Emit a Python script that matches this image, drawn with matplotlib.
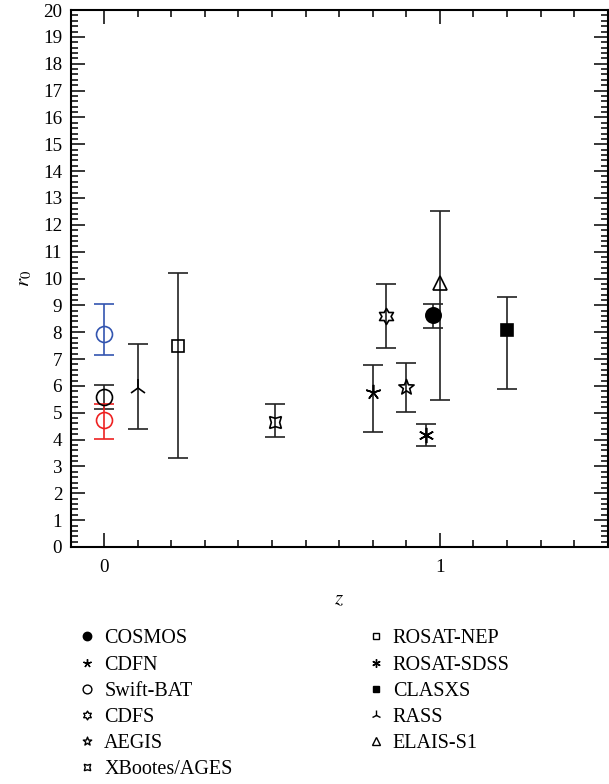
import matplotlib
matplotlib.use("Agg")
import matplotlib.pyplot as plt
from matplotlib.lines import Line2D
from matplotlib.path import Path
from matplotlib.ticker import MultipleLocator, FixedLocator
import numpy as np

plt.rcParams['font.family'] = ['Liberation Serif', 'DejaVu Serif']
plt.rcParams['mathtext.fontset'] = 'stix'

# ---- data ----
names = ["COSMOS", "CDFN", "Swift-BAT", "CDFS", "AEGIS", "XBootes/AGES",
         "ROSAT-NEP", "ROSAT-SDSS", "CLASXS", "RASS", "ELAIS-S1"]
z_vals = [0.98, 0.80, 0.00, 0.84, 0.90, 0.51, 0.22, 0.96, 1.20, 0.10, 1.00]
r0_vals = [8.63, 5.76, 5.60, 8.60, 5.95, 4.67, 7.49, 4.17, 8.09, 5.92, 9.84]
r0_upper = [9.06, 6.78, 6.03, 9.80, 6.84, 5.31, 10.20, 4.58, 9.30, 7.56, 12.50]
r0_lower = [8.17, 4.28, 5.14, 7.40, 5.04, 4.08, 3.30, 3.77, 5.88, 4.39, 5.49]

# extra Swift-BAT points (coloured)
extra_z = [0.0, 0.0]
extra_r0 = [7.93, 4.73]
extra_upper = [9.05, 5.33]
extra_lower = [7.14, 4.02]
extra_colors = ["#3355b0", "#ee2222"]

# ---- marker styles ----
hexagram = Path.unit_regular_star(6, 0.577)
pentastar = Path.unit_regular_star(5, 0.42)
styles = {
    "COSMOS": dict(marker='o', ms=11, mfc='black', mec='black'),
    "CDFN": dict(marker=(5, 2, 0), ms=11, mfc='none', mec='black'),
    "Swift-BAT": dict(marker='o', ms=11.5, mfc='none', mec='black'),
    "CDFS": dict(marker=hexagram, ms=11.5, mfc='none', mec='black'),
    "AEGIS": dict(marker=pentastar, ms=11.5, mfc='none', mec='black'),
    "XBootes/AGES": dict(marker=(4, 1, 45), ms=12, mfc='none', mec='black'),
    "ROSAT-NEP": dict(marker='s', ms=8.6, mfc='none', mec='black'),
    "ROSAT-SDSS": dict(marker=(6, 2, 0), ms=11, mfc='none', mec='black'),
    "CLASXS": dict(marker='s', ms=8.6, mfc='black', mec='black'),
    "RASS": dict(marker='2', ms=13, mfc='none', mec='black'),
    "ELAIS-S1": dict(marker='^', ms=10, mfc='none', mec='black'),
}

fig = plt.figure(figsize=(6.09, 7.84), dpi=100)
ax = fig.add_axes([0.1158, 0.3023, 0.8821, 0.6849])

ecol = '#222222'
for n, zz, r, hi, lo in zip(names, z_vals, r0_vals, r0_upper, r0_lower):
    st = styles[n]
    ax.errorbar([zz], [r], yerr=[[r - lo], [hi - r]], fmt='none',
                ecolor=ecol, elinewidth=1.2, capsize=7.5, capthick=1.2, zorder=2)
    ax.plot([zz], [r], linestyle='none', marker=st['marker'], ms=st['ms'],
            mfc=st['mfc'], mec=st['mec'], mew=1.2, zorder=3)

for zz, r, hi, lo, c in zip(extra_z, extra_r0, extra_upper, extra_lower, extra_colors):
    ax.errorbar([zz], [r], yerr=[[r - lo], [hi - r]], fmt='none',
                ecolor=c, elinewidth=1.2, capsize=7.5, capthick=1.2, zorder=2)
    ax.plot([zz], [r], linestyle='none', marker='o', ms=11.5, mfc='none',
            mec=c, mew=1.2, zorder=3)

ax.set_xlim(-0.1, 1.5)
ax.set_ylim(0, 20)
ax.xaxis.set_major_locator(FixedLocator([0, 1]))
ax.xaxis.set_minor_locator(MultipleLocator(0.1))
ax.yaxis.set_major_locator(MultipleLocator(1))
ax.yaxis.set_minor_locator(MultipleLocator(0.2))
ax.tick_params(which='both', direction='in', top=True, right=True)
ax.tick_params(which='major', length=10, width=1.1, labelsize=13.7)
ax.tick_params(which='minor', length=4.7, width=1.1)
ax.tick_params(axis='x', which='major', pad=9)
ax.tick_params(axis='y', which='major', pad=6)
for sp in ax.spines.values():
    sp.set_linewidth(1.5)

ax.set_xlabel('$z$', fontsize=15, labelpad=10)
ax.set_ylabel('$r_0$', fontsize=15, labelpad=6)

handles = []
for n in names:
    st = styles[n]
    handles.append(Line2D([], [], linestyle='none', marker=st['marker'],
                          ms=st['ms'] * 0.55, mfc=st['mfc'], mec=st['mec'], mew=1.0))
fig.legend(handles, names, ncol=2, loc='upper left', bbox_to_anchor=(0.1297, 0.1973),
           frameon=False, fontsize=14.5, handlelength=0.8, handletextpad=0.45,
           labelspacing=0.35, columnspacing=6.7, borderpad=0, borderaxespad=0)

fig.savefig('out.png', dpi=100)
